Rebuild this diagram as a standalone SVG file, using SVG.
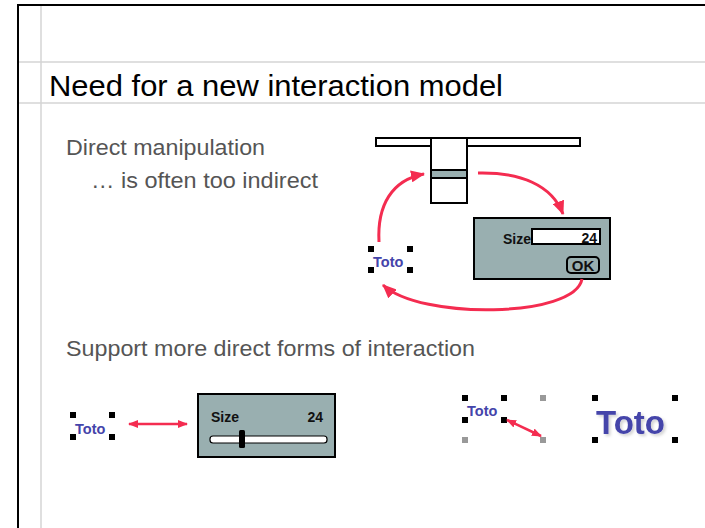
<svg xmlns="http://www.w3.org/2000/svg" width="705" height="528" viewBox="0 0 705 528">
<style>
.frame{stroke:#000;stroke-width:2;fill:none}
.guide{stroke:#d4d4d4;stroke-width:1.5;fill:none}
.title{font-family:"Liberation Sans",Arial,sans-serif;font-size:29px;fill:#000}
.body{font-family:"Liberation Sans",Arial,sans-serif;font-size:22px;fill:#555}
.wlabel{font-family:"Liberation Sans",Arial,sans-serif;font-weight:bold;font-size:14px;fill:#111}
.toto{font-family:"Liberation Sans",Arial,sans-serif;font-weight:bold;font-size:14.5px;fill:#4444aa}
.big{font-size:33px}
.ok{font-size:15px}
.panel{fill:#99afb0;stroke:#000;stroke-width:2}
.box{fill:#fff;stroke:#000;stroke-width:2}
.h{fill:#000}
.hg{fill:#999}
.arc{fill:none;stroke:#f42c50;stroke-width:3}
.dbl{fill:none;stroke:#f42c50;stroke-width:2.5}
</style>
<defs>
<marker id="ah" viewBox="0 0 14 12" refX="13" refY="6" markerWidth="14" markerHeight="12" markerUnits="userSpaceOnUse" orient="auto">
<path d="M0,0 L14,6 L0,12 z" fill="#f42c50"/>
</marker>
<marker id="ahs" viewBox="0 0 10 8" refX="9" refY="4" markerWidth="10" markerHeight="8" markerUnits="userSpaceOnUse" orient="auto-start-reverse">
<path d="M0,0 L10,4 L0,8 z" fill="#f42c50"/>
</marker>
<filter id="sh" x="-20%" y="-20%" width="140%" height="140%">
<feGaussianBlur in="SourceAlpha" stdDeviation="1.5"/>
<feOffset dx="1.5" dy="1.5" result="b"/>
<feFlood flood-color="#000" flood-opacity="0.18"/>
<feComposite in2="b" operator="in"/>
<feMerge><feMergeNode/><feMergeNode in="SourceGraphic"/></feMerge>
</filter>
</defs>
<rect width="705" height="528" fill="#fff"/>
<g id="slide-frame">
<line class="guide" x1="41" y1="6" x2="41" y2="528"/>
<line class="guide" x1="19" y1="62" x2="705" y2="62"/>
<line class="guide" x1="19" y1="103" x2="705" y2="103"/>
<path class="frame" d="M18,528 V5 H705"/>
</g>
<g id="title">
<text class="title" x="49" y="96" textLength="454" lengthAdjust="spacingAndGlyphs">Need for a new interaction model</text>
</g>
<g id="text-direct">
<text class="body" x="66" y="155" textLength="199" lengthAdjust="spacingAndGlyphs">Direct manipulation</text>
<text class="body" x="91" y="188" textLength="227" lengthAdjust="spacingAndGlyphs">… is often too indirect</text>
</g>
<g id="text-support">
<text class="body" x="66" y="356" textLength="409" lengthAdjust="spacingAndGlyphs">Support more direct forms of interaction</text>
</g>
<g id="menu">
<rect class="box" x="376" y="138" width="204" height="8"/>
<rect class="box" x="431" y="138" width="36" height="65"/>
<rect x="431" y="170" width="36" height="8" fill="#99afb0" stroke="#000" stroke-width="2"/>
</g>
<g id="dialog">
<rect class="panel" x="474" y="218" width="136" height="61"/>
<text class="wlabel" x="531" y="244" text-anchor="end">Size</text>
<rect class="box" x="532" y="229" width="68" height="15"/>
<text class="wlabel" x="597" y="243" text-anchor="end">24</text>
<rect x="567" y="257" width="32" height="16" rx="4" fill="none" stroke="#000" stroke-width="2"/>
<text class="wlabel ok" x="583" y="271" text-anchor="middle">OK</text>
</g>
<g id="toto-top">
<rect class="h" x="368" y="246" width="6" height="6"/>
<rect class="h" x="407" y="246" width="6" height="6"/>
<rect class="h" x="368" y="267" width="6" height="6"/>
<rect class="h" x="407" y="267" width="6" height="6"/>
<text class="toto" x="373" y="267">Toto</text>
</g>
<g id="toto-left">
<rect class="h" x="70" y="412" width="6" height="6"/>
<rect class="h" x="109" y="412" width="6" height="6"/>
<rect class="h" x="70" y="434" width="6" height="6"/>
<rect class="h" x="109" y="434" width="6" height="6"/>
<text class="toto" x="75" y="434">Toto</text>
</g>
<g id="slider">
<rect class="panel" x="198" y="394" width="137" height="63"/>
<text class="wlabel" x="211" y="422">Size</text>
<text class="wlabel" x="323" y="422" text-anchor="end">24</text>
<rect x="210" y="436" width="117" height="7" rx="3" fill="#fff" stroke="#000" stroke-width="1.2"/>
<rect x="239" y="430" width="6" height="18" rx="1.5" fill="#000"/>
</g>
<g id="toto-small-resize">
<rect class="h" x="462" y="395" width="6" height="6"/>
<rect class="h" x="501" y="395" width="6" height="6"/>
<rect class="hg" x="540" y="395" width="6" height="6"/>
<rect class="h" x="462" y="417" width="6" height="6"/>
<rect class="h" x="501" y="417" width="6" height="6"/>
<rect class="hg" x="462" y="437" width="6" height="6"/>
<rect class="hg" x="540" y="437" width="6" height="6"/>
<text class="toto" x="467" y="416">Toto</text>
</g>
<g id="toto-big">
<rect class="h" x="592" y="395" width="6" height="6"/>
<rect class="h" x="672" y="395" width="6" height="6"/>
<rect class="h" x="592" y="437" width="6" height="6"/>
<rect class="h" x="672" y="437" width="6" height="6"/>
<text class="toto big" x="596" y="434" filter="url(#sh)">Toto</text>
</g>
<g id="connectors">
<path class="arc" d="M379,242 C377,205 392,180 424,174" marker-end="url(#ah)"/>
<path class="arc" d="M478,173 C520,172 552,185 563,214" marker-end="url(#ah)"/>
<path class="arc" d="M582,279 C575,318 420,320 383,285" marker-end="url(#ah)"/>
<path class="dbl" d="M129,424 H187" marker-start="url(#ahs)" marker-end="url(#ahs)"/>
<path class="dbl" d="M507,420 L541,436" marker-start="url(#ahs)" marker-end="url(#ahs)"/>
</g>
</svg>
